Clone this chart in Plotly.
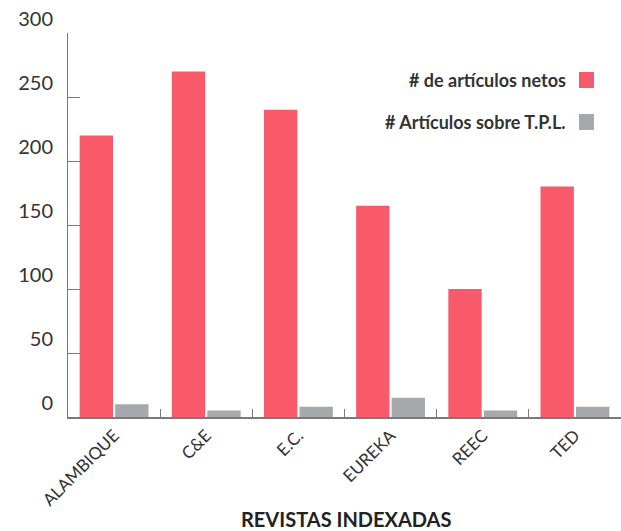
import plotly.graph_objects as go

categories = ["ALAMBIQUE", "C&E", "E.C.", "EUREKA", "REEC", "TED"]
netos = [220, 270, 240, 165, 100, 180]
tpl = [10, 5, 8, 15, 5, 8]
series_names = ["# de artículos netos", "# Artículos sobre T.P.L."]
y_ticks = [0, 50, 100, 150, 200, 250, 300]

RED = "#F95A6A"
GRAY = "#A7A8AC"
AXIS = "#7A7A7E"
TXT = "#333333"
FONT = "Lato"

fig = go.Figure()
fig.add_trace(go.Bar(x=categories, y=netos, name=series_names[0], marker_color=RED,
                     marker_line_width=0, showlegend=False))
fig.add_trace(go.Bar(x=categories, y=tpl, name=series_names[1], marker_color=GRAY,
                     marker_line_width=0, showlegend=False))

W, H = 621, 531
ml, mr, mt, mb = 68, 0, 33, 114
pw, ph = W - ml - mr, H - mt - mb

def px_x(x):
    return (x - ml) / pw

def px_y(y):
    return (H - mb - y) / ph

# custom legend (text on the left, swatch on the right)
legend_rows = [(series_names[0], RED, 80), (series_names[1], GRAY, 122)]
for name, col, yc in legend_rows:
    fig.add_annotation(xref="paper", yref="paper", x=px_x(568), y=px_y(yc),
                       xanchor="right", yanchor="middle", showarrow=False,
                       text="<b>" + name + "</b>",
                       font=dict(family=FONT, size=18, color=TXT))
    fig.add_shape(type="rect", xref="paper", yref="paper",
                  x0=px_x(579), x1=px_x(594), y0=px_y(yc - 8), y1=px_y(yc + 8),
                  fillcolor=col, line_width=0)

fig.add_annotation(xref="paper", yref="paper", x=px_x(346), y=px_y(519),
                   xanchor="center", yanchor="middle", showarrow=False,
                   text="<b>REVISTAS INDEXADAS</b>",
                   font=dict(family=FONT, size=20, color="#222222"))

fig.update_layout(
    width=W, height=H,
    margin=dict(l=ml, r=mr, t=mt, b=mb, pad=0),
    paper_bgcolor="white", plot_bgcolor="white",
    barmode="group", bargap=0.23, bargroupgap=0.06,
    font=dict(family=FONT, color=TXT),
    xaxis=dict(
        type="category", range=[-0.5, 5.5],
        showline=True, linecolor=AXIS, linewidth=2,
        ticks="inside", tickson="boundaries", ticklen=8, tickcolor=AXIS, tickwidth=1,
        tickangle=-45, tickfont=dict(family=FONT, size=17, color=TXT),
        showgrid=False, zeroline=False,
    ),
    yaxis=dict(
        range=[0, 300], tickvals=y_ticks,
        showline=True, linecolor=AXIS, linewidth=1,
        ticks="inside", ticklen=12, tickcolor=AXIS, tickwidth=1,
        ticklabelposition="outside top", ticklabelstandoff=10,
        tickfont=dict(family=FONT, size=20, color=TXT),
        showgrid=False, zeroline=False,
    ),
)

fig.write_html("out.html")
